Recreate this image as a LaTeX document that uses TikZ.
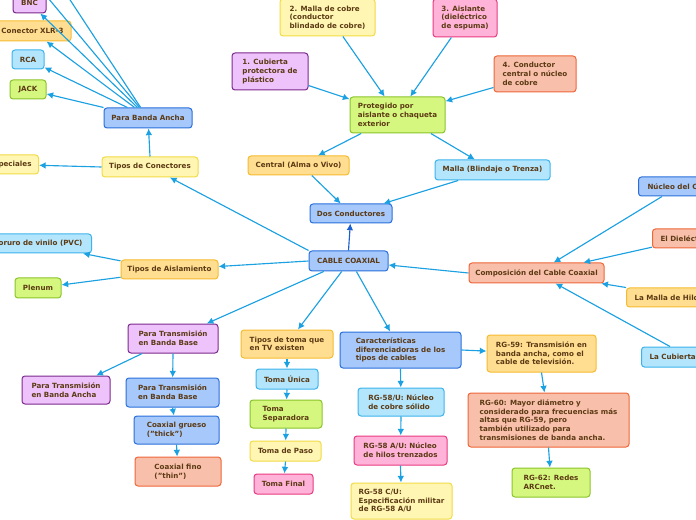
\documentclass[tikz,border=0pt]{standalone}
\usepackage{fontspec}
\setmainfont{DejaVu Sans}
\usetikzlibrary{arrows.meta}
\definecolor{txt}{HTML}{5C3A14}
\definecolor{lineC}{HTML}{1BA1E2}
\definecolor{darkL}{HTML}{1A5FCF}
\definecolor{bluF}{HTML}{A6C8FA}\definecolor{bluD}{HTML}{2A6FDB}
\definecolor{lbF}{HTML}{B3E5FC}\definecolor{lbD}{HTML}{3DB3EB}
\definecolor{grF}{HTML}{D5F77F}\definecolor{grD}{HTML}{8BC42A}
\definecolor{yeF}{HTML}{FFF6B3}\definecolor{yeD}{HTML}{F2DB45}
\definecolor{orF}{HTML}{FFDE91}\definecolor{orD}{HTML}{F6BC2F}
\definecolor{saF}{HTML}{F8BFAA}\definecolor{saD}{HTML}{F0673A}
\definecolor{piF}{HTML}{FFB3D9}\definecolor{piD}{HTML}{E93B82}
\definecolor{puF}{HTML}{EEC2FB}\definecolor{puD}{HTML}{7A2A8C}
\newcommand\fsz{\fontsize{5.35pt}{6.5pt}\selectfont\bfseries}
\tikzset{
  box/.style={draw, rounded corners=2.25pt, line width=0.75pt, inner sep=0pt, font=\fsz, text=txt, align=left},
  blu/.style={box, fill=bluF, draw=bluD},
  lb/.style={box, fill=lbF, draw=lbD},
  gr/.style={box, fill=grF, draw=grD},
  ye/.style={box, fill=yeF, draw=yeD},
  orr/.style={box, fill=orF, draw=orD},
  sa/.style={box, fill=saF, draw=saD},
  pi/.style={box, fill=piF, draw=piD},
  pu/.style={box, fill=puF, draw=puD},
  arr/.style={draw=lineC, line width=0.85pt, -{Latex[length=5pt,width=5pt]}},
  darr/.style={arr, draw=darkL},
}
% name, style, x1, y1, x2, y2, text
\newcommand\bn[7]{\node[#2, minimum width={((#5)-(#3))*0.75pt}, minimum height={((#6)-(#4))*0.75pt}] (#1) at ({((#3)+(#5))/2},{((#4)+(#6))/2}) {#7};}
\begin{document}
\begin{tikzpicture}[x=0.75pt,y=-0.75pt]
\useasboundingbox (0,0) rectangle (696,520);
\clip (0,0) rectangle (696,520);
\fill[white] (0,0) rectangle (696,520);

% left-top cluster
\bn{pba}{blu}{104}{108}{192}{128}{Para Banda Ancha}
\bn{tc}{ye}{102}{157}{198}{177}{Tipos de Conectores}
\node[ye, anchor=east, minimum height={19*0.75pt}, inner xsep=5.25pt] (esp) at (39,164.5) {Especiales};
\bn{bnc}{pu}{13}{-7}{46}{13}{BNC}
\bn{xlr}{orr}{-6}{21}{71}{41}{Conector XLR-3}
\bn{rca}{lb}{12}{50}{44}{69}{RCA}
\bn{jack}{gr}{10}{80}{46}{99}{JACK}
\coordinate (u1) at (33,-20);
\coordinate (u2) at (57,-20);

% top cluster
\bn{m2}{ye}{280}{-1}{375}{36}{2. Malla de cobre\\(conductor\\blindado de cobre)}
\bn{c1}{pu}{232}{53}{308}{90}{1. Cubierta\\protectora de\\plástico}
\bn{a3}{pi}{433}{-1}{497}{37}{3. Aislante\\(dieléctrico\\de espuma)}
\bn{n4}{sa}{494}{56}{576}{92}{4. Conductor\\central o núcleo\\de cobre}
\bn{prot}{gr}{350}{97}{445}{133}{Protegido por\\aislante o chaqueta\\exterior}
\bn{cen}{orr}{248}{156}{349}{175}{Central (Alma o Vivo)}
\bn{mal}{lb}{435}{160}{550}{180}{Malla (Blindaje o Trenza)}
\bn{dos}{blu}{310}{204}{392}{223}{Dos Conductores}
\bn{cab}{blu}{309}{251}{388}{271}{CABLE COAXIAL}

% left middle
\node[lb, anchor=east, minimum height={19*0.75pt}, inner xsep=6.75pt] (pvc) at (92,243.5) {Policloruro de vinilo (PVC)};
\bn{ta}{orr}{121}{260}{218}{279}{Tipos de Aislamiento}
\bn{plen}{gr}{15}{278}{61}{298}{Plenum}

% right middle
\node[blu, anchor=west, minimum height={19*0.75pt}, inner xsep=6.75pt] (nuc) at (638,186.5) {Núcleo del Cable};
\node[sa, anchor=west, minimum height={19*0.75pt}, inner xsep=6pt] (die) at (652,238.5) {El Dieléctrico};
\node[orr, anchor=west, minimum height={19*0.75pt}, inner xsep=6pt] (mh) at (626,297.5) {La Malla de Hilos};
\node[lb, anchor=west, minimum height={20*0.75pt}, inner xsep=6pt] (cub) at (641,357) {La Cubierta};
\bn{comp}{sa}{469}{263}{604}{283}{Composición del Cable Coaxial}

% bottom right
\bn{rg59}{orr}{487}{335}{596}{372}{RG-59: Transmisión en\\banda ancha, como el\\cable de televisión.}
\bn{rg60}{sa}{468}{393}{629}{447}{RG-60: Mayor diámetro y\\considerado para frecuencias más\\altas que RG-59, pero\\también utilizado para\\transmisiones de banda ancha.}
\bn{rg62}{gr}{512}{468}{590}{497}{RG-62: Redes\\ARCnet.}

% bottom center
\bn{tt}{orr}{241}{330}{333}{358}{Tipos de toma que\\en TV existen}
\bn{tu}{lb}{256}{369}{318}{389}{Toma Única}
\bn{ts}{gr}{250}{400}{322}{428}{Toma\\Separadora}
\bn{tp}{ye}{250}{441}{321}{461}{Toma de Paso}
\bn{tf}{pi}{254}{474}{313}{494}{Toma Final}
\bn{car}{blu}{340}{332}{461}{368}{Características\\diferenciadoras de los\\tipos de cables}
\bn{r58}{lb}{358}{388}{444}{416}{RG-58/U: Núcleo\\de cobre sólido}
\bn{r58a}{pi}{354}{436}{447}{465}{RG-58 A/U: Núcleo\\de hilos trenzados}
\bn{r58c}{ye}{351}{483}{452}{519}{RG-58 C/U:\\Especificación militar\\de RG-58 A/U}

% bottom left
\bn{ptbb}{pu}{128}{324}{218}{353}{Para Transmisión\\en Banda Base}
\bn{ptba}{pu}{22}{376}{110}{404}{Para Transmisión\\en Banda Ancha}
\bn{ptbb2}{blu}{126}{378}{219}{407}{Para Transmisión\\en Banda Base}
\bn{thick}{blu}{134}{416}{219}{444}{Coaxial grueso\\("thick")}
\bn{thin}{sa}{135}{457}{221}{486}{Coaxial fino\\("thin")}

% connectors
\draw[darr] (cab.north) -- (dos);
\draw[arr] (cab.north west) -- (tc);
\draw[arr] (tc.north) -- (pba);
\draw[arr] (tc.west) -- (esp);
\draw[arr] (pba.north west) -- (jack);
\draw[arr] (pba.153) -- (rca);
\draw[arr] (pba.142) -- (xlr);
\draw[arr] (pba.135) -- (bnc);
\draw[arr] (pba.129) -- (u1);
\draw[arr] (pba.125) -- (u2);

\draw[arr] (c1.-20) -- (prot);
\draw[arr] (m2.-51) -- (prot);
\draw[arr] (a3.-125) -- (prot);
\draw[arr] (n4.-162) -- (prot);
\draw[arr] (prot.-153) -- (cen);
\draw[arr] (prot.-29) -- (mal);
\draw[arr] (cen.-37) -- (dos);
\draw[arr] (mal.-163) -- (dos);

\draw[arr] (cab.west) -- (ta);
\draw[arr] (ta.170) -- ([xshift=-6.75pt]pvc.south east);
\draw[arr] (ta.-171) -- (plen);

\draw[arr] (comp.west) -- (cab);
\draw[arr] ([xshift=18pt]nuc.south west) -- (comp);
\draw[arr] ([yshift=1pt]die.south west) -- (comp);
\draw[arr] (mh.north west) -- (comp);
\draw[arr] ([xshift=21.75pt]cub.north west) -- (comp);

\draw[arr] (cab.-157) -- (ptbb);
\draw[arr] (ptbb.-154) -- (ptba);
\draw[arr] (ptbb.south) -- (ptbb2);
\draw[arr] (ptbb2.south) -- (thick);
\draw[arr] (thick.south) -- (thin);

\draw[arr] (cab.-123) -- (tt);
\draw[arr] (tt.south) -- (tu);
\draw[arr] (tu.south) -- (ts);
\draw[arr] (ts.south) -- (tp);
\draw[arr] (tp.south) -- (tf);

\draw[arr] (cab.-53) -- (car);
\draw[arr] (car.south) -- (r58);
\draw[arr] (r58.south) -- (r58a);
\draw[arr] (r58a.south) -- (r58c);
\draw[arr] (car.east) -- (rg59);
\draw[arr] (rg59.south) -- (rg60);
\draw[arr] (rg60.south) -- (rg62);
\end{tikzpicture}
\end{document}
